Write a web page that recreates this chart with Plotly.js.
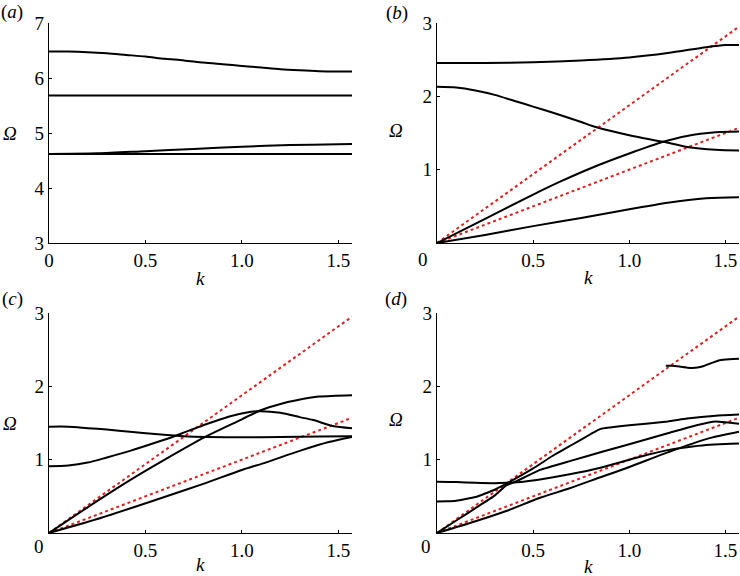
<!DOCTYPE html>
<html><head><meta charset="utf-8">
<script src="https://cdn.plot.ly/plotly-3.0.1.min.js"></script>
<style>html,body{margin:0;padding:0;background:#fff}#chart{width:740px;height:576px}</style>
</head><body><div id="chart"></div>
<script>
// ---------- data ----------
const kMax = 1.5708;
// panel (a)
const kA1 = [0, 0.1, 0.2, 0.3, 0.4, 0.5, 0.6, 0.7, 0.8, 0.9, 1.0, 1.1, 1.2, 1.3, 1.4, 1.5, 1.5708];
const wA1 = [6.48, 6.48, 6.47, 6.45, 6.42, 6.39, 6.35, 6.32, 6.28, 6.25, 6.22, 6.19, 6.16, 6.14, 6.125, 6.12, 6.12];
const kA2 = [0, 1.5708];
const wA2 = [5.68, 5.68];
const kA3 = [0, 0.25, 0.5, 0.75, 1.0, 1.25, 1.5, 1.5708];
const wA3 = [4.62, 4.63, 4.67, 4.71, 4.75, 4.78, 4.795, 4.80];
const kA4 = [0, 1.5708];
const wA4 = [4.62, 4.62];
// panel (b)
const kB1 = [0, 0.25, 0.5, 0.75, 1.0, 1.2, 1.4, 1.5, 1.5708];
const wB1 = [2.455, 2.455, 2.465, 2.49, 2.53, 2.59, 2.67, 2.70, 2.70];
const kB2 = [0, 0.1, 0.2, 0.3, 0.4, 0.5, 0.64, 0.75, 0.83, 1.0, 1.177, 1.3, 1.45, 1.5708];
const wB2 = [2.13, 2.12, 2.08, 2.02, 1.94, 1.86, 1.745, 1.65, 1.578, 1.47, 1.38, 1.31, 1.27, 1.26];
const kB3 = [0, 0.25, 0.5, 0.64, 0.8, 1.0, 1.177, 1.3, 1.45, 1.5708];
const wB3 = [0, 0.33, 0.66, 0.836, 1.02, 1.22, 1.38, 1.46, 1.51, 1.52];
const kB4 = [0, 0.25, 0.5, 0.75, 1.0, 1.2, 1.4, 1.5708];
const wB4 = [0, 0.11, 0.23, 0.34, 0.46, 0.55, 0.61, 0.625];
// panel (c)
const kC1 = [0, 0.1, 0.2, 0.3, 0.42, 0.55, 0.7, 0.82, 1.0, 1.2, 1.4, 1.5708];
const wC1 = [1.45, 1.45, 1.43, 1.41, 1.38, 1.35, 1.32, 1.31, 1.305, 1.31, 1.315, 1.32];
const kC2 = [0, 0.1, 0.2, 0.3, 0.42, 0.55, 0.66, 0.8, 0.95, 1.077, 1.2, 1.3, 1.37, 1.47, 1.5708];
const wC2 = [0.91, 0.92, 0.96, 1.03, 1.12, 1.23, 1.33, 1.47, 1.60, 1.66, 1.64, 1.58, 1.54, 1.46, 1.43];
const kC3 = [0, 0.2, 0.42, 0.6, 0.81, 1.0, 1.094, 1.2, 1.284, 1.4, 1.5708];
const wC3 = [0, 0.35, 0.72, 1.0, 1.31, 1.55, 1.67, 1.76, 1.81, 1.86, 1.88];
const kC4 = [0, 0.25, 0.575, 0.8, 1.0, 1.11, 1.3, 1.45, 1.5708];
const wC4 = [0, 0.19, 0.47, 0.67, 0.86, 0.95, 1.12, 1.24, 1.31];
// panel (d)
const kD1 = [0, 0.1, 0.2, 0.3, 0.36, 0.45, 0.536, 0.69, 0.85, 1.0, 1.1, 1.2, 1.3, 1.4, 1.5, 1.5708];
const wD1 = [0.70, 0.695, 0.685, 0.68, 0.685, 0.70, 0.73, 0.80, 0.89, 1.0, 1.07, 1.13, 1.17, 1.20, 1.215, 1.22];
const kD2 = [0, 0.05, 0.1, 0.2, 0.3, 0.38, 0.5, 0.6, 0.7, 0.8, 0.85, 0.9, 1.0, 1.2, 1.3, 1.45, 1.5708];
const wD2 = [0.43, 0.432, 0.44, 0.49, 0.59, 0.70, 0.88, 1.05, 1.20, 1.35, 1.42, 1.44, 1.47, 1.52, 1.56, 1.60, 1.615];
const kD3 = [0, 0.1, 0.2, 0.3, 0.36, 0.4, 0.536, 0.69, 0.85, 1.0, 1.2, 1.35, 1.45, 1.5, 1.5708];
const wD3 = [0, 0.17, 0.34, 0.51, 0.65, 0.69, 0.86, 0.98, 1.10, 1.21, 1.36, 1.47, 1.52, 1.51, 1.49];
const kD4 = [0, 0.2, 0.36, 0.536, 0.69, 0.85, 1.0, 1.2, 1.4, 1.5708];
const wD4 = [0, 0.16, 0.30, 0.48, 0.61, 0.76, 0.90, 1.10, 1.28, 1.38];
const kD5 = [1.19, 1.22, 1.26, 1.3, 1.33, 1.38, 1.43, 1.47, 1.52, 1.5708];
const wD5 = [2.28, 2.28, 2.27, 2.255, 2.25, 2.27, 2.32, 2.355, 2.37, 2.375];
// red dotted reference lines (b, c, d)
const kRed = [0, 1.5708];
const wRedSteep = [0, 2.95];
const wRedShallow = [0, 1.5708];

// tick labels
const xTickVals = [0, 0.5, 1.0, 1.5];
const xTickTextA = ['0', '0.5', '1.0', '1.5'];
const xTickTextB = ['', '0.5', '1.0', '1.5'];
const yTickValsA = [3, 4, 5, 6, 7];
const yTickTextA = ['3', '4', '5', '6', '7'];
const yTickValsB = [0, 1, 2, 3];
const yTickTextB = ['', '1', '2', '3'];

// ---------- build ----------
const black = {color: '#000', width: 2};
const red = {color: '#e0201c', width: 2, dash: 'dot'};
function ln(x, y, ax, shape, style, sm) {
  return {x: x, y: y, xaxis: 'x' + ax, yaxis: 'y' + ax, type: 'scatter', mode: 'lines',
          line: Object.assign({shape: shape || 'spline', smoothing: sm || 0.8}, style || black),
          hoverinfo: 'skip', showlegend: false};
}
const traces = [
  ln(kA1, wA1, ''), ln(kA2, wA2, ''), ln(kA3, wA3, ''), ln(kA4, wA4, ''),
  ln(kRed, wRedSteep, '2', 'linear', red), ln(kRed, wRedShallow, '2', 'linear', red),
  ln(kB1, wB1, '2'), ln(kB2, wB2, '2'), ln(kB3, wB3, '2'), ln(kB4, wB4, '2'),
  ln(kRed, wRedSteep, '3', 'linear', red), ln(kRed, wRedShallow, '3', 'linear', red),
  ln(kC1, wC1, '3'), ln(kC2, wC2, '3'), ln(kC3, wC3, '3'), ln(kC4, wC4, '3'),
  ln(kRed, wRedSteep, '4', 'linear', red), ln(kRed, wRedShallow, '4', 'linear', red),
  ln(kD1, wD1, '4'), ln(kD2, wD2, '4', 'spline', black, 0.35), ln(kD3, wD3, '4', 'spline', black, 0.3),
  ln(kD4, wD4, '4'), ln(kD5, wD5, '4')
];
const serif = 'Liberation Serif';
const tickFont = {family: serif, size: 19, color: '#000'};
function xax(dom, anchor, txt) {
  return {domain: dom, anchor: anchor, range: [0, kMax], showline: true, linecolor: '#000', linewidth: 1.2,
          showgrid: false, zeroline: false, ticks: 'inside', ticklen: 3, tickcolor: '#000',
          tickvals: xTickVals, ticktext: txt, tickfont: tickFont, fixedrange: true};
}
function yax(dom, anchor, rng, vals, txt) {
  return {domain: dom, anchor: anchor, range: rng, showline: true, linecolor: '#000', linewidth: 1.2,
          showgrid: false, zeroline: false, ticks: 'inside', ticklen: 3, tickcolor: '#000',
          tickvals: vals, ticktext: txt, tickfont: tickFont, fixedrange: true};
}
const dxL = [49/740, 352/740], dxR = [437/740, 739/740];
const dyT = [1 - 243/576, 1 - 23/576], dyB = [1 - 533/576, 1 - 313/576];
function ann(x, y, text, size) {
  return {xref: 'paper', yref: 'paper', x: x, y: y, text: text, showarrow: false,
          xanchor: 'center', yanchor: 'middle', font: {family: serif, size: size || 19, color: '#000'}};
}
const layout = {
  width: 740, height: 576, margin: {l: 0, r: 0, t: 0, b: 0},
  paper_bgcolor: '#fff', plot_bgcolor: 'rgba(0,0,0,0)', showlegend: false,
  font: {family: serif},
  xaxis: xax(dxL, 'y', xTickTextA), yaxis: yax(dyT, 'x', [3, 7], yTickValsA, yTickTextA),
  xaxis2: xax(dxR, 'y2', xTickTextB), yaxis2: yax(dyT, 'x2', [0, 3], yTickValsB, yTickTextB),
  xaxis3: xax(dxL, 'y3', xTickTextB), yaxis3: yax(dyB, 'x3', [0, 3], yTickValsB, yTickTextB),
  xaxis4: xax(dxR, 'y4', xTickTextB), yaxis4: yax(dyB, 'x4', [0, 3], yTickValsB, yTickTextB),
  annotations: [
    ann(12/740, 1 - 12/576, '(<i>a</i>)'), ann(397/740, 1 - 13/576, '(<i>b</i>)'),
    ann(12/740, 1 - 299/576, '(<i>c</i>)'), ann(396/740, 1 - 299/576, '(<i>d</i>)'),
    ann(10/740, 1 - 133/576, '<i>Ω</i>'), ann(396/740, 1 - 130/576, '<i>Ω</i>'),
    ann(10/740, 1 - 423/576, '<i>Ω</i>'), ann(396/740, 1 - 419/576, '<i>Ω</i>'),
    ann(200/740, 1 - 278/576, '<i>k</i>'), ann(588/740, 1 - 277/576, '<i>k</i>'),
    ann(200/740, 1 - 564/576, '<i>k</i>'), ann(588/740, 1 - 566/576, '<i>k</i>'),
    ann(423/740, 1 - 259/576, '0'), ann(39/740, 1 - 546/576, '0'), ann(426/740, 1 - 546/576, '0')
  ]
};
Plotly.newPlot('chart', traces, layout, {staticPlot: true, displayModeBar: false});
</script></body></html>
